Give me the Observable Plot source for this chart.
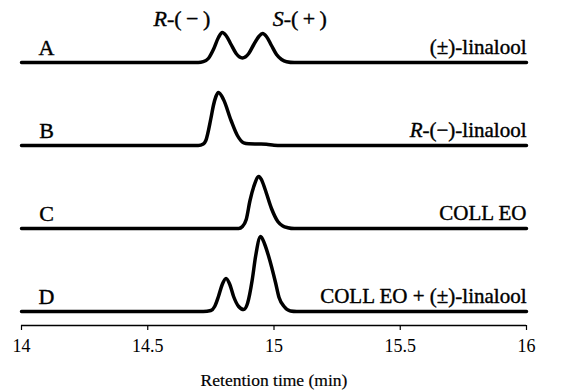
<!DOCTYPE html>
<html>
<head>
<meta charset="utf-8">
<script src="https://cdn.jsdelivr.net/npm/d3@7"></script>
<script src="https://cdn.jsdelivr.net/npm/@observablehq/plot@0.6"></script>
<style>
  html, body { margin: 0; padding: 0; background: #fff; }
  #chart { width: 563px; height: 390px; }
  #chart svg, #chart svg text { font-family: "Liberation Serif", "Times New Roman", serif !important; }
</style>
</head>
<body>
<div id="chart"></div>
<script>
// ---- Data ----
const traceIds = ["A", "B", "C", "D"];
const traceNames = ["(±)-linalool", "R-(−)-linalool", "COLL EO", "COLL EO + (±)-linalool"];
const xTicks = [14, 14.5, 15, 15.5, 16];
const xLabel = "Retention time (min)";
const peakLabels = ["R-(\u2009−\u2009)", "S-(\u2009+\u2009)"];
const peakTimes = [14.795, 14.955];

// Trace A: (±)-linalool
const tA = [14, 14.70, 14.72, 14.74, 14.76, 14.78, 14.795, 14.81, 14.83, 14.85, 14.875, 14.90, 14.92, 14.94, 14.955, 14.97, 14.99, 15.01, 15.03, 15.05, 15.08, 16];
const sA = [0, 0, 0.8, 4, 13, 25, 30, 27, 18, 9, 4.5, 9, 18, 26, 29, 26, 17, 8, 3, 0.8, 0, 0];
// Trace B: R-(−)-linalool
const tB = [14, 14.70, 14.72, 14.73, 14.75, 14.76, 14.77, 14.78, 14.80, 14.83, 14.855, 14.88, 14.90, 14.94, 14.97, 15.00, 15.03, 16];
const sB = [0, 0, 1.5, 5, 27, 40, 49, 53, 46, 25, 10, 2.7, 1.8, 1.5, 1.2, 0.3, 0, 0];
// Trace C: COLL EO
const tC = [14, 14.86, 14.875, 14.89, 14.905, 14.92, 14.94, 14.95, 14.965, 14.99, 15.015, 15.035, 15.055, 15.08, 16];
const sC = [0, 0, 2, 9, 28, 42, 52, 49, 39, 20, 7, 2.5, 0.8, 0, 0];
// Trace D: COLL EO + (±)-linalool
const tD = [14, 14.72, 14.75, 14.765, 14.78, 14.795, 14.81, 14.825, 14.84, 14.86, 14.88, 14.895, 14.914, 14.927, 14.947, 14.962, 14.979, 15.006, 15.02, 15.04, 15.065, 15.09, 16];
const sD = [0, 0, 1, 5, 15, 27, 33, 27, 15, 5, 2, 8, 32, 55, 75, 68, 55, 29, 14, 5, 0.5, 0, 0];

const times = [tA, tB, tC, tD];
const signals = [sA, sB, sC, sD];

// ---- Layout (stacking) ----
const laneGap = 83;          // vertical spacing between stacked traces (signal units)
const yBottom = -14;         // where the time axis sits below the lowest trace
const yTop = 311;
const offsetOf = i => (traceIds.length - 1 - i) * laneGap;

const rows = [];
traceIds.forEach((id, i) => {
  times[i].forEach((t, j) => rows.push({trace: id, t, y: signals[i][j] + offsetOf(i)}));
});
const labelRows = traceIds.map((id, i) => ({id, name: traceNames[i], y: offsetOf(i)}));

const serif = "Liberation Serif";
const txt = {fill: "#000", stroke: "#000", strokeWidth: 0.4, fontFamily: serif};

const plot = Plot.plot({
  width: 563,
  height: 390,
  marginLeft: 21,
  marginRight: 37,
  marginTop: 0,
  marginBottom: 65,
  style: {fontFamily: serif, fontSize: "17px", background: "#fff", color: "#000", overflow: "visible"},
  x: {domain: [14, 16]},
  y: {domain: [yBottom, yTop], axis: null},
  marks: [
    Plot.ruleY([yBottom], {x1: 14, x2: 16, stroke: "#000", strokeWidth: 1.3}),
    Plot.axisX({ticks: xTicks, tickFormat: d => String(d), tickSize: 5, tickPadding: 9,
                fontSize: 18, fontFamily: serif, label: null, stroke: "#000", strokeWidth: 1.2}),
    Plot.line(rows, {x: "t", y: "y", z: "trace", curve: "monotone-x",
                     stroke: "#000", strokeWidth: 3.5, strokeLinejoin: "round", strokeLinecap: "round"}),
    Plot.text(labelRows, {y: "y", text: "id", frameAnchor: "left", dx: 25, dy: -15,
                          textAnchor: "middle", fontSize: 22, ...txt}),
    Plot.text(labelRows, {y: "y", text: "name", frameAnchor: "right", dy: -15,
                          textAnchor: "end", fontSize: 21, ...txt}),
    Plot.text([peakLabels[0]], {x: [peakTimes[0]], frameAnchor: "top", dy: 10, dx: -12,
                                text: d => d, textAnchor: "end", fontSize: 22, ...txt}),
    Plot.text([peakLabels[1]], {x: [peakTimes[1]], frameAnchor: "top", dy: 10, dx: 10,
                                text: d => d, textAnchor: "start", fontSize: 22, ...txt}),
    Plot.text([xLabel], {frameAnchor: "bottom", dy: 60, text: d => d, textAnchor: "middle",
                         fontSize: 17.5, fill: "#000", stroke: "#000", strokeWidth: 0.2, fontFamily: serif})
  ]
});

// italicise the configuration letter (R / S) in labels
const NS = "http://www.w3.org/2000/svg";
plot.querySelectorAll("text").forEach(el => {
  if (el.children.length) return;
  const s = el.textContent;
  const m = /^([RS])(-\(.*)$/.exec(s);
  if (!m) return;
  el.textContent = "";
  const a = document.createElementNS(NS, "tspan");
  a.setAttribute("font-style", "italic");
  a.textContent = m[1];
  const b = document.createElementNS(NS, "tspan");
  b.textContent = m[2];
  el.appendChild(a); el.appendChild(b);
});

document.getElementById("chart").appendChild(plot);
</script>
</body>
</html>
